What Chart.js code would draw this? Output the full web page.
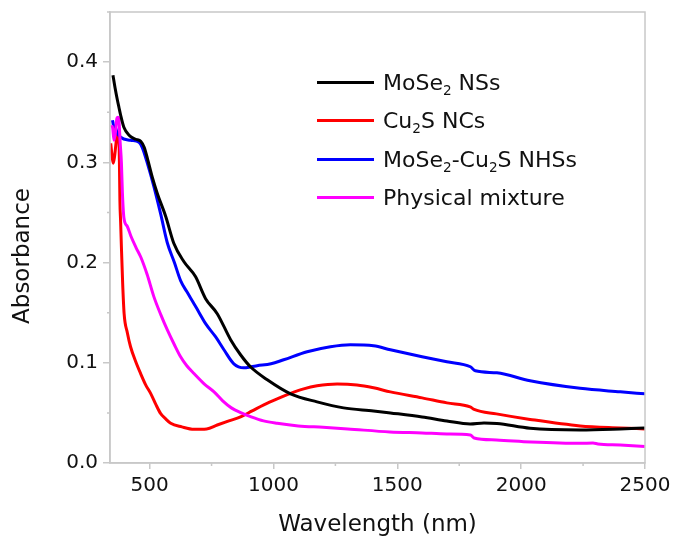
<!DOCTYPE html>
<html>
<head>
<meta charset="utf-8">
<script src="https://cdn.jsdelivr.net/npm/chart.js@4.4.0/dist/chart.umd.min.js"></script>
<style>
  html, body { margin: 0; padding: 0; background: #fff; }
  #wrap { position: relative; width: 674px; height: 539px; }
  #myChart { display: block; }
  #legend { position: absolute; left: 317px; top: 63px; font-family: 'DejaVu Sans', Verdana, sans-serif; font-size: 22px; color: #111; }
  .row { display: flex; align-items: center; height: 38.5px; white-space: nowrap; }
  .swatch { width: 57px; height: 3px; margin-right: 9px; }
  sub { font-size: 0.62em; vertical-align: -0.35em; line-height: 0; }
</style>
</head>
<body>
<div id="wrap">
  <canvas id="myChart" width="674" height="539"></canvas>
  <div id="legend">
    <div class="row"><span class="swatch" style="background:#000000"></span><span>MoSe<sub>2</sub> NSs</span></div>
    <div class="row"><span class="swatch" style="background:#ff0000"></span><span>Cu<sub>2</sub>S NCs</span></div>
    <div class="row"><span class="swatch" style="background:#0000ff"></span><span>MoSe<sub>2</sub>-Cu<sub>2</sub>S NHSs</span></div>
    <div class="row"><span class="swatch" style="background:#ff00ff"></span><span>Physical mixture</span></div>
  </div>
</div>
<script>
(function () {
  'use strict';

  // tick labels
  const xTicks = [500, 1000, 1500, 2000, 2500];
  const yTicks = [0, 0.1, 0.2, 0.3, 0.4];

  // MoSe2 NSs
  const mose2Wl = [352, 360, 370, 376, 383, 396, 417, 444, 464, 478, 491, 511, 531, 565, 598, 638, 685, 726, 773, 827, 867, 907, 975, 1069, 1176, 1283, 1404, 1472, 1600, 1700, 1794, 1850, 1902, 2036, 2238, 2400, 2500];
  const mose2Abs = [0.387, 0.375, 0.362, 0.355, 0.347, 0.335, 0.327, 0.323, 0.321, 0.315, 0.304, 0.285, 0.269, 0.246, 0.219, 0.201, 0.186, 0.164, 0.149, 0.123, 0.108, 0.096, 0.083, 0.069, 0.061, 0.055, 0.052, 0.050, 0.046, 0.042, 0.039, 0.040, 0.0395, 0.0346, 0.033, 0.034, 0.035];

  // Cu2S NCs
  const cu2sWl = [343, 348, 353, 358, 363, 370, 375, 378, 380, 383, 386, 391, 397, 410, 423, 444, 464, 484, 504, 524, 544, 565, 585, 630, 679, 730, 773, 820, 867, 914, 961, 1015, 1069, 1122, 1176, 1257, 1337, 1404, 1472, 1600, 1700, 1794, 1810, 1900, 2036, 2238, 2400, 2500];
  const cu2sAbs = [0.319, 0.307, 0.299, 0.305, 0.316, 0.33, 0.33, 0.30, 0.262, 0.24, 0.216, 0.18, 0.149, 0.13, 0.116, 0.101, 0.089, 0.078, 0.0695, 0.059, 0.0495, 0.044, 0.0396, 0.036, 0.0336, 0.034, 0.0379, 0.042, 0.046, 0.052, 0.058, 0.064, 0.0695, 0.074, 0.077, 0.0788, 0.0778, 0.075, 0.071, 0.065, 0.060, 0.056, 0.0535, 0.049, 0.0435, 0.037, 0.035, 0.034];

  // MoSe2-Cu2S NHSs
  const nhsWl = [350, 353, 356, 360, 368, 383, 423, 457, 470, 491, 517, 545, 571, 600, 625, 650, 679, 700, 726, 766, 800, 840, 880, 910, 934, 990, 1041, 1136, 1230, 1310, 1404, 1472, 1600, 1700, 1795, 1815, 1902, 2036, 2238, 2400, 2500];
  const nhsAbs = [0.342, 0.338, 0.330, 0.336, 0.33, 0.325, 0.322, 0.320, 0.315, 0.299, 0.276, 0.248, 0.22, 0.20, 0.182, 0.171, 0.159, 0.15, 0.139, 0.126, 0.113, 0.099, 0.095, 0.096, 0.097, 0.099, 0.103, 0.111, 0.116, 0.118, 0.117, 0.113, 0.106, 0.101, 0.096, 0.092, 0.090, 0.082, 0.0745, 0.071, 0.069];

  // Physical mixture
  const mixWl = [346, 351, 356, 362, 368, 372, 376, 381, 386, 390, 396, 410, 425, 445, 465, 490, 517, 545, 571, 600, 625, 650, 680, 720, 760, 795, 830, 870, 910, 960, 1015, 1100, 1200, 1300, 1470, 1600, 1700, 1795, 1810, 1900, 2040, 2240, 2290, 2310, 2400, 2500];
  const mixAbs = [0.337, 0.334, 0.322, 0.33, 0.344, 0.345, 0.342, 0.32, 0.30, 0.27, 0.245, 0.236, 0.226, 0.215, 0.205, 0.188, 0.166, 0.148, 0.133, 0.118, 0.106, 0.097, 0.089, 0.079, 0.071, 0.062, 0.055, 0.050, 0.046, 0.042, 0.0396, 0.037, 0.0356, 0.034, 0.031, 0.030, 0.029, 0.028, 0.025, 0.023, 0.021, 0.0196, 0.020, 0.019, 0.018, 0.0165];

  const fontFam = "'DejaVu Sans', Verdana, sans-serif";
  const axisGray = '#c8c8c8';

  function pts(xs, ys) {
    return xs.map(function (x, i) { return { x: x, y: ys[i] }; });
  }

  function line(label, xs, ys, color, order) {
    return {
      label: label,
      data: pts(xs, ys),
      borderColor: color,
      backgroundColor: color,
      borderWidth: 3,
      pointRadius: 0,
      cubicInterpolationMode: 'monotone',
      order: order
    };
  }

  // no extra room for overhanging tick labels
  function noPad(s) {
    s.paddingTop = 0; s.paddingBottom = 0; s.paddingLeft = 0; s.paddingRight = 0;
  }

  // frame, minor ticks and the rotated y title
  const extras = {
    id: 'extras',
    afterDraw: function (chart) {
      const ctx = chart.ctx;
      const a = chart.chartArea;
      const sx = chart.scales.x, sy = chart.scales.y;
      ctx.save();
      ctx.strokeStyle = axisGray;
      ctx.lineWidth = 1.5;
      ctx.strokeRect(a.left, a.top, a.right - a.left, a.bottom - a.top);
      ctx.beginPath();
      for (let v = 750; v < 2500; v += 500) {
        const px = sx.getPixelForValue(v);
        ctx.moveTo(px, a.bottom);
        ctx.lineTo(px, a.bottom + 3);
      }
      for (let v = 0.05; v < 0.45; v += 0.1) {
        const py = sy.getPixelForValue(v);
        ctx.moveTo(a.left, py);
        ctx.lineTo(a.left - 3, py);
      }
      ctx.stroke();
      ctx.fillStyle = '#111';
      ctx.font = '23px ' + fontFam;
      ctx.textAlign = 'center';
      ctx.textBaseline = 'middle';
      ctx.translate(23, 256);
      ctx.rotate(-Math.PI / 2);
      ctx.fillText('Absorbance', 0, 0);
      ctx.restore();
    }
  };

  const ctx = document.getElementById('myChart').getContext('2d');
  const chart = new Chart(ctx, {
    type: 'line',
    data: {
      datasets: [
        line('MoSe2 NSs', mose2Wl, mose2Abs, '#000000', 1),
        line('Cu2S NCs', cu2sWl, cu2sAbs, '#ff0000', 4),
        line('MoSe2-Cu2S NHSs', nhsWl, nhsAbs, '#0000ff', 3),
        line('Physical mixture', mixWl, mixAbs, '#ff00ff', 2)
      ]
    },
    options: {
      responsive: false,
      animation: false,
      layout: { padding: { top: 12, right: 29, left: 0, bottom: 0 } },
      plugins: { legend: { display: false }, tooltip: { enabled: false } },
      scales: {
        x: {
          type: 'linear',
          min: 340,
          max: 2500,
          afterBuildTicks: function (s) { s.ticks = xTicks.map(function (v) { return { value: v }; }); },
          afterFit: function (s) { s.height = 76; noPad(s); },
          grid: { drawOnChartArea: false, tickLength: 6, color: axisGray, lineWidth: 1.5 },
          border: { color: axisGray, width: 1.5 },
          ticks: {
            font: { family: fontFam, size: 20 }, color: '#111', padding: 5, maxRotation: 0,
            callback: function (v) { return String(v); }
          },
          title: { display: true, text: 'Wavelength (nm)', font: { family: fontFam, size: 23 }, color: '#111', padding: 0 }
        },
        y: {
          min: 0,
          max: 0.45,
          afterBuildTicks: function (s) { s.ticks = yTicks.map(function (v) { return { value: v }; }); },
          afterFit: function (s) { s.width = 110; noPad(s); },
          grid: { drawOnChartArea: false, tickLength: 7, color: axisGray, lineWidth: 1.5 },
          border: { color: axisGray, width: 1.5 },
          ticks: {
            font: { family: fontFam, size: 20 }, color: '#111', padding: 5,
            callback: function (v) { return v.toFixed(1); }
          }
        }
      }
    },
    plugins: [extras]
  });
})();
</script>
</body>
</html>
